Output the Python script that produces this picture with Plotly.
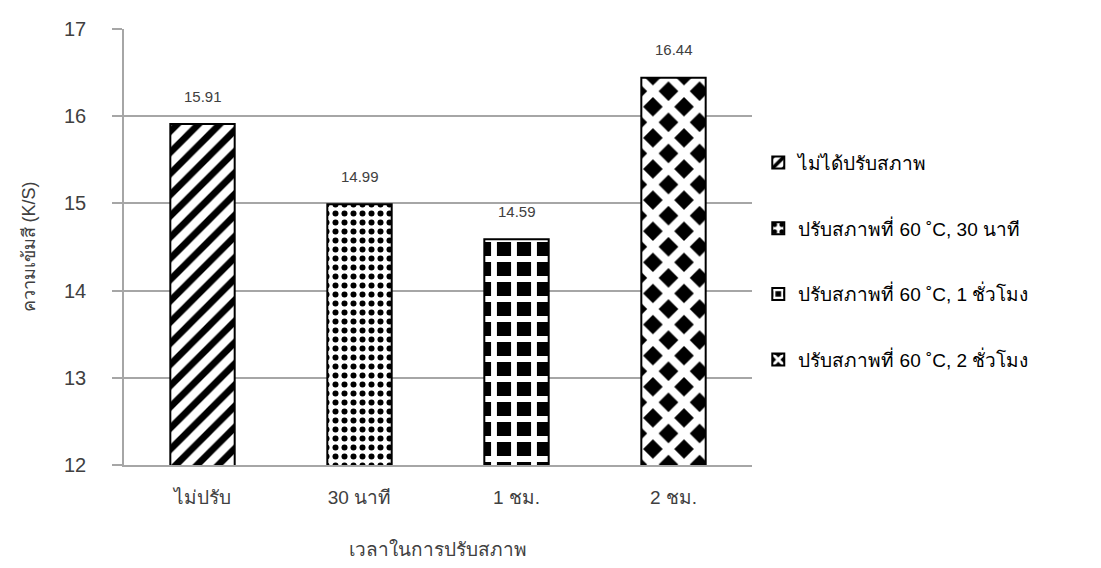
import plotly.graph_objects as go

categories = ["ไม่ปรับ", "30 นาที", "1 ชม.", "2 ชม."]
values = [15.91, 14.99, 14.59, 16.44]
series_names = [
    "ไม่ได้ปรับสภาพ",
    "ปรับสภาพที่ 60 ˚C, 30 นาที",
    "ปรับสภาพที่ 60 ˚C, 1 ชั่วโมง",
    "ปรับสภาพที่ 60 ˚C, 2 ชั่วโมง",
]
y_ticks = [12, 13, 14, 15, 16, 17]

FONT = "Liberation Sans, Arial, sans-serif"
TEXT = "#404040"
GRID = "#a6a6a6"

patterns = [
    dict(shape="/", fgcolor="black", bgcolor="white", size=15, solidity=0.45),
    dict(shape=".", fgcolor="black", bgcolor="white", size=9, solidity=0.35),
    dict(shape="+", fgcolor="white", bgcolor="black", size=20, solidity=0.5),
    dict(shape="x", fgcolor="white", bgcolor="black", size=22, solidity=0.6),
]

fig = go.Figure()
for i, (cat, val, name) in enumerate(zip(categories, values, series_names)):
    fig.add_trace(go.Bar(
        x=[cat], y=[val], name=name,
        width=0.41,
        marker=dict(color="white", pattern=dict(fgopacity=1, **patterns[i]),
                    line=dict(color="black", width=2)),
        legendgroup=f"g{i}",
    ))
    fig.add_annotation(x=cat, y=val, text=f"{val:.2f}", showarrow=False,
                       yshift=28, font=dict(size=15, color=TEXT, family=FONT))

fig.update_layout(
    width=1101, height=568,
    margin=dict(l=124, r=349, t=29, b=103),
    plot_bgcolor="white", paper_bgcolor="white",
    barmode="overlay",
    font=dict(family=FONT, color=TEXT),
    showlegend=True,
    legend=dict(x=1.01, y=0.737, xanchor="left", yanchor="top",
                font=dict(size=19, color="black", family=FONT),
                tracegroupgap=38, itemwidth=30),
)
fig.update_xaxes(
    categoryorder="array", categoryarray=categories,
    showline=True, linecolor=GRID, linewidth=2,
    ticks="", tickfont=dict(size=19, color=TEXT), ticklabelstandoff=14,
    title=dict(text="เวลาในการปรับสภาพ", font=dict(size=19, color=TEXT), standoff=36),
)
fig.update_yaxes(
    range=[12, 17], tickvals=y_ticks,
    showgrid=True, gridcolor=GRID, gridwidth=1.5,
    showline=True, linecolor=GRID, linewidth=1.5,
    ticks="outside", ticklen=10, tickcolor=GRID, tickwidth=1.5,
    tickfont=dict(size=20, color=TEXT), ticklabelstandoff=22,
    title=dict(text="ความเข้มสี (K/S)", font=dict(size=18, color=TEXT), standoff=24),
    zeroline=False,
)

fig.write_html("out.html")
